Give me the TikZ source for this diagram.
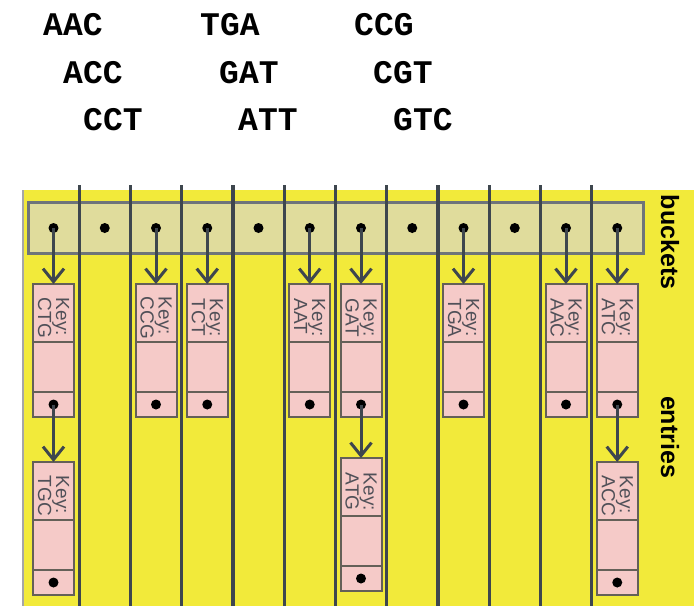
\documentclass[tikz,border=0pt]{standalone}
\usepackage{fontspec}
\setmainfont{Liberation Sans}
\newfontfamily\codefont{Liberation Mono}
\usepackage{tikz}
\usetikzlibrary{positioning,arrows.meta}
\definecolor{panel}{RGB}{242,234,58}
\definecolor{bucketfill}{RGB}{224,220,156}
\definecolor{entryfill}{RGB}{245,202,200}
\definecolor{entryline}{RGB}{100,96,88}
\definecolor{linegray}{RGB}{62,70,78}
\definecolor{keygray}{RGB}{80,80,88}

\begin{document}
\begin{tikzpicture}[x=1pt, y=-1pt,
  word/.style={font=\codefont\bfseries\fontsize{33}{33}\selectfont, anchor=base west, inner sep=0pt},
  side/.style={font=\bfseries\fontsize{25}{25}\selectfont, rotate=-90, inner sep=0pt},
  dot/.style={circle, fill=black, inner sep=0pt, minimum size=10pt},
  keybox/.style={draw=entryline, fill=entryfill, line width=2pt, outer sep=0pt, anchor=north, minimum width=41pt, minimum height=58pt},
  databox/.style={draw=entryline, fill=entryfill, line width=2pt, outer sep=0pt, minimum width=41pt, minimum height=50pt},
  ptrbox/.style={draw=entryline, fill=entryfill, line width=2pt, outer sep=0pt, minimum width=41pt, minimum height=25pt},
  keytext/.style={rotate=-90, align=left, text=keygray, font=\fontsize{19}{18}\selectfont, inner sep=0pt},
  link/.style={draw=linegray, line width=3pt, -{Straight Barb[length=13pt, width=21pt, line width=3pt]}}]
\useasboundingbox (0,0) rectangle (694,606);

% Keys
\node[word] (aac) at (43,35) {AAC};
\node[word] (tga) at (200,35) {TGA};
\node[word] (ccg) at (354,35) {CCG};
\node[word] (acc) at (63,83) {ACC};
\node[word] (gat) at (219,83) {GAT};
\node[word] (cgt) at (373,83) {CGT};
\node[word] (cct) at (83,130) {CCT};
\node[word] (att) at (238,130) {ATT};
\node[word] (gtc) at (393,130) {GTC};

% Table background
\fill[panel] (23,190) rectangle (694,606);
\draw[gray!70, line width=2pt] (23,190) -- (23,606);
\draw[draw=linegray!75, fill=bucketfill, line width=3pt] (28,202) rectangle (643,253);
\foreach \k in {1,...,11}
  \draw[linegray, line width=3.2pt] (28+51.25*\k,185) -- (28+51.25*\k,606);

% Buckets
\foreach \i in {1,...,12}
  \node[dot] (b\i) at (2.25+51.25*\i,228) {};

% Entries
\foreach \x/\y/\k in {53.5/284/CTG, 156/284/CCG, 207.25/284/TCT, 309.75/284/AAT,
                      361/284/GAT, 463.5/284/TGA, 566/284/AAC, 617.25/284/ATC,
                      53.5/462/TGC, 361/458/ATG, 617.25/462/ACC} {
  \node[keybox] (e\k) at (\x,\y) {};
  \node[keytext] at ([yshift=-5pt]e\k.center) {Key:\\\k};
  \node[databox, below=0pt of e\k] (d\k) {};
  \node[ptrbox, below=0pt of d\k] (p\k) {};
  \node[dot] (pd\k) at (p\k) {};
}

% Links
\draw[link] (b1.center) -- (eCTG.north);
\draw[link] (b3.center) -- (eCCG.north);
\draw[link] (b4.center) -- (eTCT.north);
\draw[link] (b6.center) -- (eAAT.north);
\draw[link] (b7.center) -- (eGAT.north);
\draw[link] (b9.center) -- (eTGA.north);
\draw[link] (b11.center) -- (eAAC.north);
\draw[link] (b12.center) -- (eATC.north);
\draw[link] (pdCTG.center) -- (eTGC.north);
\draw[link] (pdGAT.center) -- (eATG.north);
\draw[link] (pdATC.center) -- (eACC.north);

% Side labels
\node[side] (buckets) at (670,242) {buckets};
\node[side] (entries) at (670,437) {entries};
\end{tikzpicture}
\end{document}
